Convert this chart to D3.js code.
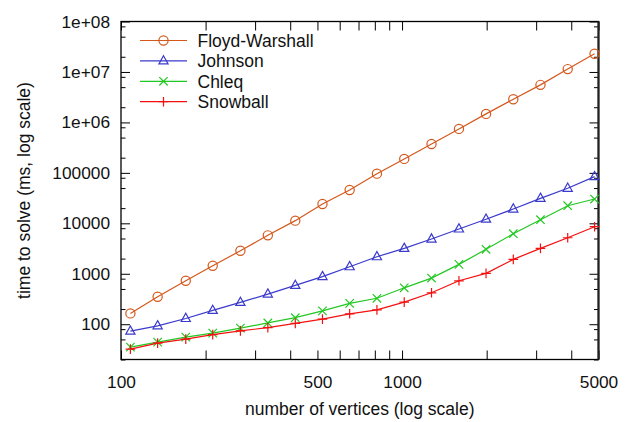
<!DOCTYPE html>
<html>
<head>
<meta charset="utf-8">
<script src="https://cdn.jsdelivr.net/npm/d3@7"></script>
<style>
	body { margin: 0; background: #fff; }
	svg { display: block; font-family: "Liberation Sans", Arial, sans-serif; }
	.tick text { font-size: 17.3px; fill: #111; }
	.tick line { stroke: #000; stroke-width: 1; }
</style>
</head>
<body>
<div id="chart"></div>
<script>
var vertices = [108, 135, 170, 212, 266, 333, 417, 521, 651, 814, 1018, 1273, 1594, 1990, 2488, 3108, 3885, 4841];
var floydWarshall = [164, 350, 727, 1440, 2860, 5780, 11300, 24100, 45800, 96400, 189000, 374000, 743000, 1475000, 2880000, 5550000, 11400000, 22900000];
var johnson = [73, 93, 130, 188, 271, 396, 589, 880, 1377, 2175, 3190, 4880, 7710, 12060, 19200, 31300, 49500, 84100];
var chleq = [35.2, 44.2, 55.5, 66.6, 83.7, 106, 135, 184, 259, 327, 527, 822, 1537, 3050, 6220, 11800, 22300, 30300];
var snowball = [32.1, 42.2, 50.6, 62.2, 74, 85.7, 104, 126, 161, 193, 274, 420, 726, 1018, 1930, 3190, 5180, 8570];

var seriesNames = ["Floyd-Warshall", "Johnson", "Chleq", "Snowball"];
var xTicks = [100, 200, 300, 400, 500, 600, 700, 800, 900, 1000, 2000, 3000, 4000, 5000];
var xTickLabels = [100, 500, 1000, 5000];
var yMajorTicks = [100, 1000, 10000, 100000, 1e6, 1e7, 1e8];
var yMinorTicks = [20, 50, 80, 200, 500, 800, 2000, 5000, 8000, 20000, 50000, 80000, 2e5, 5e5, 8e5, 2e6, 5e6, 8e6, 2e7, 5e7, 8e7];

(function () {
	var width = 631, height = 422;
	var left = 121, right = 598.5, top = 21.5, bottom = 359.5;

	var series = [
		{ name: seriesNames[0], values: floydWarshall, color: "#d4581c", mark: "circle" },
		{ name: seriesNames[1], values: johnson, color: "#3a3acc", mark: "triangle" },
		{ name: seriesNames[2], values: chleq, color: "#22c822", mark: "cross" },
		{ name: seriesNames[3], values: snowball, color: "#f41010", mark: "plus" }
	];

	var x = d3.scaleLog().domain([100, 5000]).range([left, right]);
	var y = d3.scaleLog().domain([20, 1e8]).range([bottom, top]);

	var svg = d3.select("#chart").append("svg")
		.attr("width", width)
		.attr("height", height);

	function yFormat(v) {
		if (v < 1e6) return d3.format("d")(v);
		var e = Math.round(Math.log10(v));
		return "1e+" + (e < 10 ? "0" + e : e);
	}

	// x axes, bottom with labels, top mirrored
	svg.append("g")
		.attr("transform", "translate(0," + bottom + ")")
		.call(d3.axisBottom(x).tickValues(xTicks).tickSizeInner(-9).tickSizeOuter(0).tickPadding(16.5)
			.tickFormat(function (d) { return xTickLabels.indexOf(d) >= 0 ? d : ""; }))
		.call(function (g) { g.select(".domain").remove(); });
	svg.append("g")
		.attr("transform", "translate(0," + top + ")")
		.call(d3.axisTop(x).tickValues(xTicks).tickSizeInner(-9).tickSizeOuter(0).tickFormat(""))
		.call(function (g) { g.select(".domain").remove(); });

	// y axes, major + minor, left with labels, right mirrored
	svg.append("g")
		.attr("transform", "translate(" + left + ",0)")
		.call(d3.axisLeft(y).tickValues(yMajorTicks).tickSizeInner(-9).tickSizeOuter(0).tickPadding(11).tickFormat(yFormat))
		.call(function (g) { g.select(".domain").remove(); });
	svg.append("g")
		.attr("transform", "translate(" + left + ",0)")
		.call(d3.axisLeft(y).tickValues(yMinorTicks).tickSizeInner(-4.5).tickSizeOuter(0).tickFormat(""))
		.call(function (g) { g.select(".domain").remove(); });
	svg.append("g")
		.attr("transform", "translate(" + right + ",0)")
		.call(d3.axisRight(y).tickValues(yMajorTicks).tickSizeInner(-9).tickSizeOuter(0).tickFormat(""))
		.call(function (g) { g.select(".domain").remove(); });
	svg.append("g")
		.attr("transform", "translate(" + right + ",0)")
		.call(d3.axisRight(y).tickValues(yMinorTicks).tickSizeInner(-4.5).tickSizeOuter(0).tickFormat(""))
		.call(function (g) { g.select(".domain").remove(); });

	// frame
	svg.append("rect")
		.attr("x", left).attr("y", top)
		.attr("width", right - left).attr("height", bottom - top)
		.attr("fill", "none").attr("stroke", "#000").attr("stroke-width", 1.3);
	svg.append("line")
		.attr("x1", right).attr("x2", right).attr("y1", top).attr("y2", bottom)
		.attr("stroke", "#222").attr("stroke-width", 2.2);

	var markPaths = {
		circle: "M-4.6,0A4.6,4.6 0 1,0 4.6,0A4.6,4.6 0 1,0 -4.6,0Z",
		triangle: "M0,-5.2L4.6,3L-4.6,3Z",
		cross: "M-4.2,-4.2L4.2,4.2M-4.2,4.2L4.2,-4.2",
		plus: "M-4.8,0L4.8,0M0,-4.8L0,4.8"
	};

	var line = d3.line()
		.x(function (d) { return x(d[0]); })
		.y(function (d) { return y(d[1]); });

	series.forEach(function (s) {
		var pts = vertices.map(function (v, i) { return [v, s.values[i]]; });
		var g = svg.append("g").attr("class", "series");
		g.append("path")
			.datum(pts)
			.attr("d", line)
			.attr("fill", "none")
			.attr("stroke", s.color)
			.attr("stroke-width", 1.2);
		g.selectAll("path.mark").data(pts).enter().append("path")
			.attr("class", "mark")
			.attr("d", markPaths[s.mark])
			.attr("transform", function (d) { return "translate(" + x(d[0]) + "," + y(d[1]) + ")"; })
			.attr("fill", "none")
			.attr("stroke", s.color)
			.attr("stroke-width", 1.2);
	});

	// legend
	var legend = svg.append("g").attr("class", "legend");
	series.forEach(function (s, i) {
		var ly = 40.5 + i * 20.4;
		legend.append("line")
			.attr("x1", 140).attr("x2", 187).attr("y1", ly).attr("y2", ly)
			.attr("stroke", s.color).attr("stroke-width", 1.2);
		legend.append("path")
			.attr("d", markPaths[s.mark])
			.attr("transform", "translate(163.5," + ly + ")")
			.attr("fill", "none").attr("stroke", s.color).attr("stroke-width", 1.2);
		legend.append("text")
			.attr("x", 197.5).attr("y", ly)
			.attr("dy", "0.36em")
			.style("font-size", "17.5px")
			.attr("fill", "#111")
			.text(s.name);
	});

	// axis titles
	svg.append("text")
		.attr("x", (left + right) / 2).attr("y", 415)
		.attr("text-anchor", "middle")
		.style("font-size", "17.5px")
		.attr("fill", "#111")
		.text("number of vertices (log scale)");
	svg.append("text")
		.attr("transform", "translate(30," + (top + bottom) / 2 + ") rotate(-90)")
		.attr("text-anchor", "middle")
		.style("font-size", "17.5px")
		.attr("fill", "#111")
		.text("time to solve (ms, log scale)");
})();
</script>
</body>
</html>
